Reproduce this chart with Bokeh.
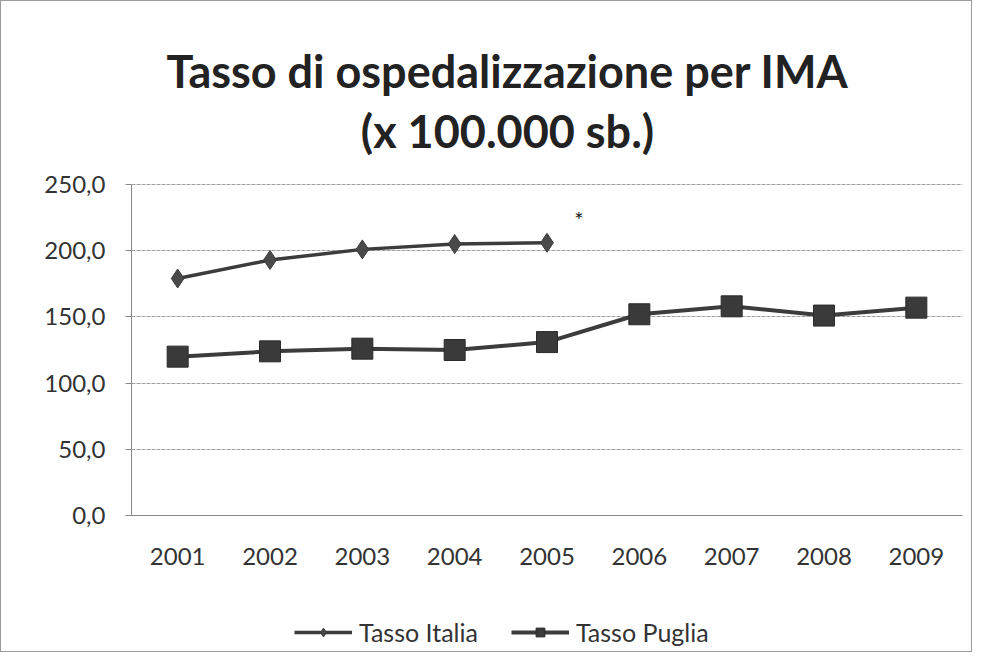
from bokeh.plotting import figure
from bokeh.models import Label, Legend, LegendItem, FixedTicker
from bokeh.core.properties import value
from bokeh.embed import file_html
from bokeh.resources import INLINE

years = ["2001", "2002", "2003", "2004", "2005", "2006", "2007", "2008", "2009"]
italia_years = ["2001", "2002", "2003", "2004", "2005"]
italia = [179, 193, 201, 205, 206]
puglia = [120, 124, 126, 125, 131, 152, 158, 151, 157]
y_ticks = [0, 50, 100, 150, 200, 250]
y_tick_labels = ["0,0", "50,0", "100,0", "150,0", "200,0", "250,0"]
title_lines = ["Tasso di ospedalizzazione per IMA", "(x 100.000 sb.)"]
series_names = ["Tasso Italia", "Tasso Puglia"]

FONT = "Lato"
DARK = "#3c3c3c"

# the frame fills the whole height: title above and legend below are drawn inside it,
# the y axis is bounded to 0..250 and the x axis is fixed at y = 0
p = figure(width=972, height=652, x_range=years, y_range=(-104.2, 388.2),
           output_backend="svg", toolbar_location=None,
           min_border_left=130, min_border_right=11,
           min_border_top=0, min_border_bottom=0,
           styles={"border": "1px solid #9a9a9a", "box-sizing": "border-box"})
p.outline_line_color = None
p.border_fill_color = "white"
p.background_fill_color = "white"

p.xgrid.grid_line_color = None
p.ygrid.grid_line_color = "#a0a0a0"
p.ygrid.grid_line_dash = "4 1"
p.ygrid.grid_line_width = 1

p.yaxis.ticker = FixedTicker(ticks=y_ticks)
p.yaxis.bounds = (y_ticks[0], y_ticks[-1])
p.yaxis.major_label_overrides = {t: l for t, l in zip(y_ticks, y_tick_labels)}
p.yaxis.major_label_text_font = FONT
p.yaxis.major_label_text_font_size = "24px"
p.yaxis.major_label_text_color = "#333333"
p.yaxis.axis_line_color = "#888888"
p.yaxis.major_tick_line_color = "#888888"
p.yaxis.major_tick_out = 6
p.yaxis.major_tick_in = 0
p.yaxis.minor_tick_line_color = None
p.yaxis.major_label_standoff = 20

p.xaxis.fixed_location = 0
p.xaxis.major_label_text_font = FONT
p.xaxis.major_label_text_font_size = "24px"
p.xaxis.major_label_text_color = "#333333"
p.xaxis.axis_line_color = "#888888"
p.xaxis.major_tick_line_color = None
p.xaxis.major_label_standoff = 26

r1l = p.line(italia_years, italia, line_color=DARK, line_width=3.5)
r1m = p.scatter(italia_years, italia, marker="diamond", size=19,
                fill_color="#4a4a4a", line_color=DARK)
r2l = p.line(years, puglia, line_color=DARK, line_width=4)
r2m = p.scatter(years, puglia, marker="square", size=21,
                fill_color="#3a3a3a", line_color="#2a2a2a")

# asterisk beside the last Italia value
p.text(x=[italia_years[-1]], y=[italia[-1]], text=["*"], x_offset=32, y_offset=-23,
       text_font=value(FONT), text_font_size="22px", text_color="#222222",
       text_align="center", text_baseline="middle")

legend = Legend(items=[LegendItem(label=series_names[0], renderers=[r1l, r1m]),
                       LegendItem(label=series_names[1], renderers=[r2l, r2m])],
                orientation="horizontal", location=(163, 6),
                label_text_font=FONT, label_text_font_size="25px",
                label_text_color="#333333", glyph_width=58, glyph_height=22,
                spacing=33, border_line_color=None, background_fill_alpha=0,
                label_standoff=7, margin=0, padding=4)
p.add_layout(legend, "center")

for i, t in enumerate(title_lines):
    p.add_layout(Label(x=376, y=583 - 60 * i, x_units="screen", y_units="screen",
                       text=t, text_font=FONT, text_font_style="bold",
                       text_font_size="45px", text_color="#222222",
                       text_align="center", text_baseline="middle"))

open("out.html", "w").write(file_html(p, INLINE))
